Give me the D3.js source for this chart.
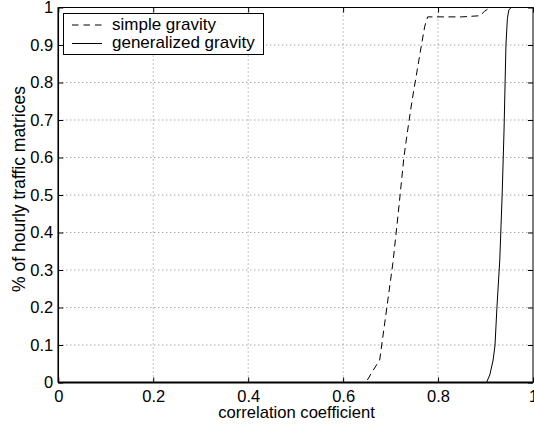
<!DOCTYPE html>
<html><head><meta charset="utf-8">
<script src="https://cdn.jsdelivr.net/npm/d3@7"></script>
<style>body{margin:0;background:#fff}svg{display:block}text{font-family:"Liberation Sans",Arial,sans-serif;fill:#000}</style>
</head><body>
<svg id="c" width="534" height="426"></svg>
<script>
const xTicks = [0, 0.2, 0.4, 0.6, 0.8, 1];
const yTicks = [0, 0.1, 0.2, 0.3, 0.4, 0.5, 0.6, 0.7, 0.8, 0.9, 1];
const simpleX = [0, 0.648, 0.662, 0.677, 0.690, 0.705, 0.716, 0.728, 0.736, 0.745, 0.765, 0.772, 0.778, 0.800, 0.850, 0.888, 0.898, 0.909, 1];
const simpleY = [0, 0, 0.03, 0.06, 0.18, 0.32, 0.45, 0.60, 0.673, 0.75, 0.90, 0.95, 0.975, 0.975, 0.975, 0.978, 0.99, 1.0, 1.0];
const genX = [0, 0.868, 0.902, 0.909, 0.916, 0.920, 0.924, 0.930, 0.935, 0.939, 0.943, 0.946, 0.949, 0.954, 1];
const genY = [0, 0, 0, 0.02, 0.06, 0.10, 0.20, 0.327, 0.50, 0.673, 0.90, 0.97, 0.993, 1.0, 1.0];
const seriesNames = ["simple gravity", "generalized gravity"];

const svg = d3.select("#c");
const L = 58.3, R = 533, T = 7.5, B = 382.5;
const x = d3.scaleLinear().domain([0, 1]).range([L, R]);
const y = d3.scaleLinear().domain([0, 1]).range([B, T]);
const FONT = '"Liberation Sans",Arial,sans-serif';

// grid
svg.append("g").selectAll("line").data(xTicks.slice(1, -1)).join("line")
  .attr("x1", d => x(d)).attr("x2", d => x(d)).attr("y1", T).attr("y2", B)
  .attr("stroke", "#666").attr("stroke-width", 0.8).attr("stroke-dasharray", "1,3");
svg.append("g").selectAll("line").data(yTicks.slice(1, -1)).join("line")
  .attr("y1", d => y(d)).attr("y2", d => y(d)).attr("x1", L).attr("x2", R)
  .attr("stroke", "#666").attr("stroke-width", 0.8).attr("stroke-dasharray", "1,3");

// axes
const xa = svg.append("g").attr("transform", `translate(0,${B})`)
  .call(d3.axisBottom(x).tickValues(xTicks).tickSize(-5).tickPadding(8).tickFormat(d3.format("")));
const xt = svg.append("g").attr("transform", `translate(0,${T})`)
  .call(d3.axisTop(x).tickValues(xTicks).tickSize(-5).tickFormat(""));
const ya = svg.append("g").attr("transform", `translate(${L},0)`)
  .call(d3.axisLeft(y).tickValues(yTicks).tickSize(-5).tickPadding(5).tickFormat(d3.format("")));
const yr = svg.append("g").attr("transform", `translate(${R},0)`)
  .call(d3.axisRight(y).tickValues(yTicks).tickSize(-5).tickFormat(""));
[xa, xt, ya, yr].forEach(g => {
  g.select(".domain").remove();
  g.selectAll("line").attr("stroke", "#000").attr("stroke-width", 1);
  g.selectAll("text").attr("font-size", 16.5).attr("font-family", FONT).attr("fill", "#000");
});
xa.selectAll("text").attr("dy", "0.71em");

// lines
const line = d3.line().x(d => x(d[0])).y(d => y(d[1]));
const simple = simpleX.map((v, i) => [v, simpleY[i]]);
const gen = genX.map((v, i) => [v, genY[i]]);
svg.append("path").attr("d", line(simple)).attr("fill", "none").attr("stroke", "#000")
  .attr("stroke-width", 1).attr("stroke-dasharray", "7,4.5");
svg.append("path").attr("d", line(gen)).attr("fill", "none").attr("stroke", "#000").attr("stroke-width", 1);

// frame
svg.append("rect").attr("x", L).attr("y", T).attr("width", R - L).attr("height", B - T)
  .attr("fill", "none").attr("stroke", "#000").attr("stroke-width", 1);
svg.append("line").attr("x1", L).attr("x2", R).attr("y1", B).attr("y2", B).attr("stroke", "#000").attr("stroke-width", 2);
svg.append("line").attr("x1", L).attr("x2", L).attr("y1", T).attr("y2", B).attr("stroke", "#000").attr("stroke-width", 1.5);

// legend
const lg = svg.append("g");
lg.append("rect").attr("x", 63.5).attr("y", 13.5).attr("width", 200).attr("height", 41)
  .attr("fill", "#fff").attr("stroke", "#000").attr("stroke-width", 1);
const dashes = ["6.5,5", null];
seriesNames.forEach((n, i) => {
  const yy = 25 + i * 18.5;
  const l = lg.append("line").attr("x1", 72).attr("x2", 102).attr("y1", yy).attr("y2", yy)
    .attr("stroke", "#000").attr("stroke-width", 1);
  if (dashes[i]) l.attr("stroke-dasharray", dashes[i]);
  lg.append("text").attr("x", 112).attr("y", yy + 4.5).attr("font-size", 17).text(n);
});

// axis labels
svg.append("text").attr("x", 296.5).attr("y", 418).attr("text-anchor", "middle")
  .attr("font-size", 16.6).text("correlation coefficient");
svg.append("text").attr("transform", `translate(24.5,189) rotate(-90)`)
  .attr("text-anchor", "middle").attr("font-size", 17.5).text("% of hourly traffic matrices");
</script>
</body></html>
